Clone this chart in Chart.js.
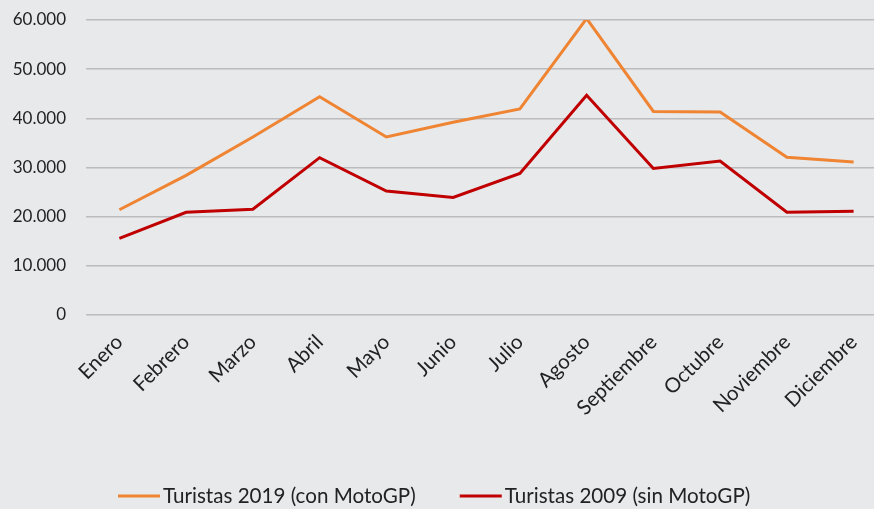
<!DOCTYPE html>
<html>
<head>
<meta charset="utf-8">
<script src="https://cdn.jsdelivr.net/npm/chart.js@4"></script>
<style>
  html, body { margin:0; padding:0; background:#e8e9eb; overflow:hidden; }
  #wrap { width:890px; height:509px; position:relative; }
</style>
</head>
<body>
<div id="wrap"><canvas id="chart"></canvas></div>
<script>
// datos
const meses = ['Enero','Febrero','Marzo','Abril','Mayo','Junio','Julio','Agosto','Septiembre','Octubre','Noviembre','Diciembre'];
const turistas2019 = [21400, 28400, 36200, 44400, 36200, 39200, 41900, 60300, 41400, 41300, 32100, 31100];
const turistas2009 = [15600, 20900, 21500, 32000, 25200, 23900, 28800, 44700, 29800, 31300, 20900, 21100];
const yTicks = [0, 10000, 20000, 30000, 40000, 50000, 60000];

const fuente = 'Lato, "Noto Sans", sans-serif';
const fmt = v => v === 0 ? '0' : v.toString().replace(/\B(?=(\d{3})+(?!\d))/g, '.');

// leyenda dibujada a mano, abajo
const leyendaPlugin = {
  id: 'leyendaAbajo',
  afterDraw(chart) {
    const ctx = chart.ctx;
    ctx.save();
    ctx.font = '20.6px ' + fuente;
    ctx.textBaseline = 'middle';
    ctx.textAlign = 'left';
    let x = 118;
    const y = 496;
    chart.data.datasets.forEach(d => {
      ctx.strokeStyle = d.borderColor;
      ctx.lineWidth = 3;
      ctx.beginPath(); ctx.moveTo(x, y); ctx.lineTo(x + 42, y); ctx.stroke();
      x += 45;
      ctx.fillStyle = '#222';
      ctx.fillText(d.label, x, y);
      x += ctx.measureText(d.label).width + 44;
    });
    ctx.restore();
  }
};

new Chart(document.getElementById('chart').getContext('2d'), {
  type: 'line',
  data: {
    labels: meses,
    datasets: [
      { label: 'Turistas 2019 (con MotoGP)', data: turistas2019, borderColor: '#ef8433', borderWidth: 3, pointRadius: 0, tension: 0 },
      { label: 'Turistas 2009 (sin MotoGP)', data: turistas2009, borderColor: '#c00000', borderWidth: 3, pointRadius: 0, tension: 0 }
    ]
  },
  plugins: [leyendaPlugin],
  options: {
    responsive: true,
    maintainAspectRatio: false,
    animation: false,
    layout: { padding: { left: 0, right: 3, top: 20, bottom: 0 } },
    plugins: { tooltip: { enabled: false }, legend: { display: false } },
    scales: {
      x: {
        offset: true,
        grid: { display: false, drawTicks: false },
        border: { display: false },
        ticks: { minRotation: 45, maxRotation: 45, autoSkip: false, padding: 15, color: '#222', font: { family: fuente, size: 20.5 } },
        afterFit: s => { s.height = 194; s.paddingLeft = 0; s.paddingRight = 0; }
      },
      y: {
        min: 0, max: 60000,
        afterBuildTicks: axis => { axis.ticks = yTicks.map(v => ({ value: v })); },
        grid: { color: '#bcbcbe', lineWidth: 1.5, drawTicks: false },
        border: { display: false },
        ticks: { padding: 20, color: '#222', font: { family: fuente, size: 17 }, callback: v => fmt(v) },
        afterFit: s => { s.width = 86; s.paddingTop = 0; s.paddingBottom = 0; }
      }
    }
  }
});
</script>
</body>
</html>
